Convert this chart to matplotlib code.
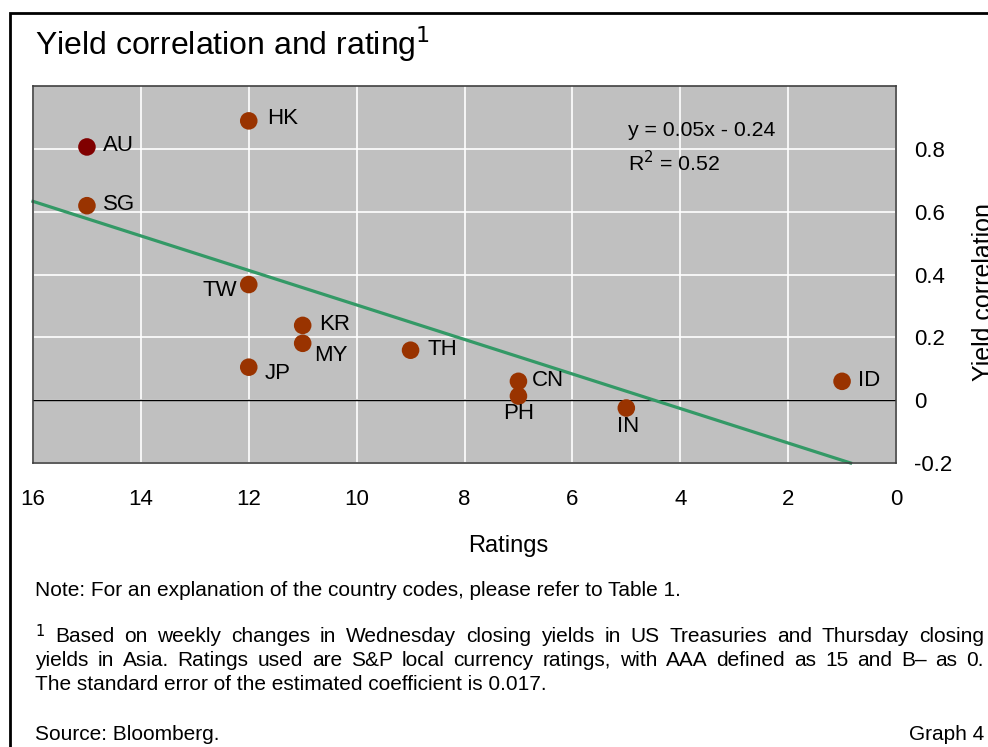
import matplotlib
matplotlib.use("Agg")
import matplotlib.pyplot as plt
import numpy as np
from matplotlib.patches import Rectangle

plt.rcParams["font.family"] = ["Liberation Sans", "DejaVu Sans"]

countries = ["AU", "HK", "SG", "TW", "KR", "MY", "JP", "TH", "CN", "PH", "IN", "ID"]
ratings = [15, 12, 15, 12, 11, 11, 12, 9, 7, 7, 5, 1]
yield_corr = [0.806, 0.889, 0.619, 0.368, 0.238, 0.181, 0.105, 0.159, 0.060, 0.013, -0.025, 0.060]

# label placement (pixel offsets from the point, horizontal alignment)
label_pos = {
    "AU": (16, 1, "left"), "HK": (18, 2, "left"), "SG": (16, 1, "left"),
    "TW": (-12, -6, "right"), "KR": (16, 1, "left"), "MY": (11, -12, "left"),
    "JP": (16, -6, "left"), "TH": (17, 1, "left"), "CN": (13, 1, "left"),
    "PH": (0, -17, "center"), "IN": (2, -18, "center"), "ID": (16, 1, "left"),
}

W, H = 988, 747
fig = plt.figure(figsize=(W / 100, H / 100), dpi=100)
ax = fig.add_axes([33 / W, 1 - 463 / H, (896 - 33) / W, (463 - 86) / H])
ax.set_facecolor("#c0c0c0")
ax.set_xlim(16, 0)
ax.set_ylim(-0.2, 1.0)
ax.set_xticks(np.arange(16, -1, -2))
ax.set_yticks([-0.2, 0, 0.2, 0.4, 0.6, 0.8])
ax.set_yticklabels(["-0.2", "0", "0.2", "0.4", "0.6", "0.8"])
ax.yaxis.tick_right()
ax.tick_params(length=0, labelsize=16)
ax.tick_params(axis="x", pad=19)
ax.tick_params(axis="y", pad=13)
for lab in ax.get_yticklabels():
    lab.set_horizontalalignment("left")
ax.grid(True, color="white", lw=1.2)
ax.set_axisbelow(True)
for sp in ax.spines.values():
    sp.set_color("#404040")
    sp.set_linewidth(1.2)
ax.axhline(0, color="black", lw=1, zorder=1.5)

# regression line
coef = np.polyfit(ratings, yield_corr, 1)
x_end = (-0.2 - coef[1]) / coef[0]
xs = np.array([16, x_end])
ax.plot(xs, np.polyval(coef, xs), color="#339966", lw=2.3, zorder=2, clip_on=False)

colors = ["#800000" if c == "AU" else "#993300" for c in countries]
ax.scatter(ratings, yield_corr, s=160, c=colors, zorder=3, linewidths=0)
for c, x, y in zip(countries, ratings, yield_corr):
    dx, dy, ha = label_pos[c]
    ax.annotate(c, (x, y), xytext=(dx, dy), textcoords="offset pixels",
                ha=ha, va="center", fontsize=16)

ax.text(0.689, 0.881, "y = 0.05x - 0.24", transform=ax.transAxes,
        fontsize=15.3, va="center", ha="left")
ax.text(0.689, 0.796, r"R$^2$ = 0.52", transform=ax.transAxes,
        fontsize=15.3, va="center", ha="left")

# figure frame and texts
fig.patches.append(Rectangle((10 / W, -0.05), 1.1, 0.05 + 1 - 13 / H,
                             transform=fig.transFigure, fill=False,
                             edgecolor="black", lw=2))
fig.text(35 / W, 1 - 44 / H, "Yield correlation and rating$^1$",
         fontsize=23, va="center", ha="left")
fig.text(508 / W, 1 - 546 / H, "Ratings", fontsize=17, ha="center", va="center")
fig.text(984 / W, 1 - 292 / H, "Yield correlation", fontsize=18,
         rotation=90, ha="center", va="center")

fs = 15
renderer = fig.canvas.get_renderer()


def justified(line, y_px, x0=35, x1=984):
    words = line.split()
    texts = [fig.text(0, 1 - y_px / H, w, fontsize=fs, va="center") for w in words]
    widths = [t.get_window_extent(renderer).width for t in texts]
    gap = (x1 - x0 - sum(widths)) / (len(words) - 1)
    x = x0
    for t, w in zip(texts, widths):
        t.set_x(x / W)
        x += w + gap


fig.text(35 / W, 1 - 591 / H, "Note: For an explanation of the country codes, please refer to Table 1.",
         fontsize=fs, va="center")
justified("$^1$ Based on weekly changes in Wednesday closing yields in US Treasuries and Thursday closing", 636)
justified("yields in Asia. Ratings used are S&P local currency ratings, with AAA defined as 15 and B\u2013 as 0.", 660)
fig.text(35 / W, 1 - 685 / H, "The standard error of the estimated coefficient is 0.017.",
         fontsize=fs, va="center")
fig.text(35 / W, 1 - 734 / H, "Source: Bloomberg.", fontsize=fs, va="center")
fig.text(984 / W, 1 - 734 / H, "Graph 4", fontsize=fs, va="center", ha="right")

fig.savefig("out.png", dpi=100)
